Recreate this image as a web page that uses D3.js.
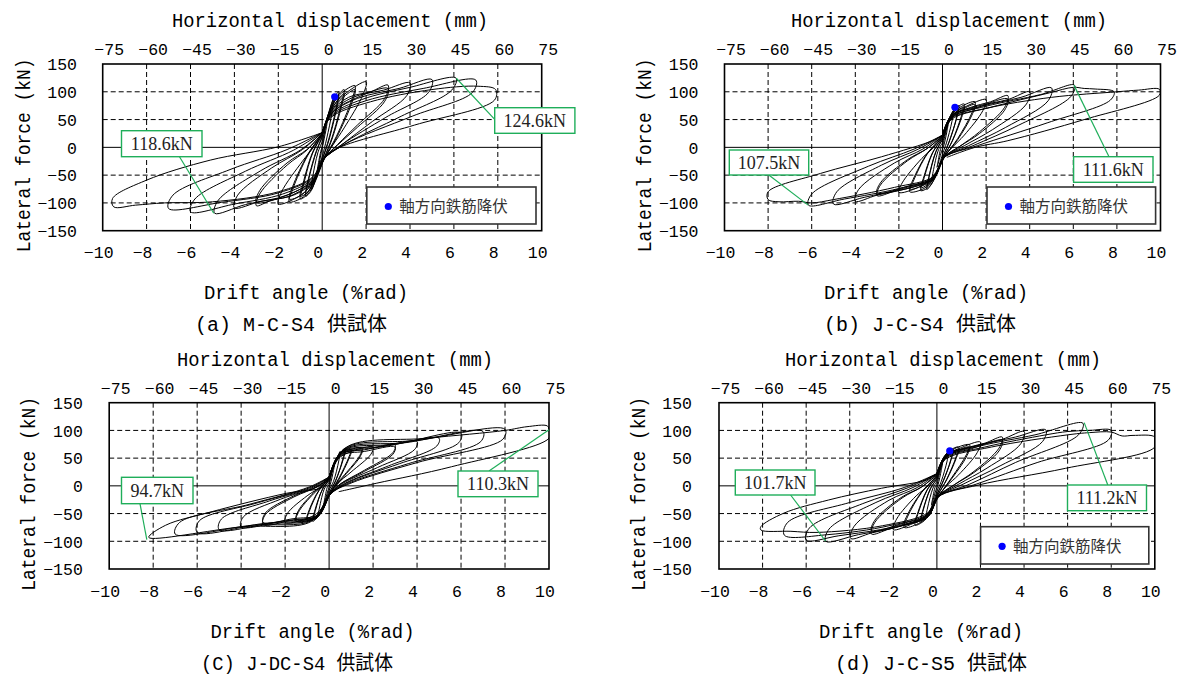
<!DOCTYPE html>
<html>
<head>
<meta charset="utf-8">
<script src="https://cdn.jsdelivr.net/npm/d3@7"></script>
<style>
  body { margin: 0; background: #fff; }
</style>
</head>
<body>
<svg id="chart" width="1189" height="677"></svg>
<script>
// ---- axis ticks ----
const driftTicks = [-10, -8, -6, -4, -2, 0, 2, 4, 6, 8, 10];
const dispTicks = [-75, -60, -45, -30, -15, 0, 15, 30, 45, 60, 75];
const forceTicks = [-150, -100, -50, 0, 50, 100, 150];

const xTitle = "Drift angle (%rad)";
const xTopTitle = "Horizontal displacement (mm)";
const yTitle = "Lateral force (kN)";
const legendText = "軸方向鉄筋降伏";
const captions = ["(a) M-C-S4 供試体", "(b) J-C-S4 供試体", "(C) J-DC-S4 供試体", "(d) J-C-S5 供試体"];

// ---- hysteresis loops, [drift %rad, force kN] ----
const loopsA = [
  [[0,0],[0.12,30],[0.25,55],[0.2,38],[0.05,8],[-0.05,-10],[-0.15,-32],[-0.25,-50],[-0.2,-35],[-0.05,-5],[0,0]],
  [[0,10],[0.2,45],[0.38,72],[0.5,86],[0.44,62],[0.2,15],[0.02,-14],[-0.2,-45],[-0.38,-66],[-0.5,-76],[-0.44,-55],[-0.2,-10],[0,10]],
  [[0,18],[0.25,56],[0.5,86],[0.75,100],[0.66,76],[0.3,15],[0.05,-16],[-0.25,-52],[-0.5,-78],[-0.75,-88],[-0.66,-66],[-0.3,-12],[0,18]],
  [[0,20],[0.3,60],[0.6,85],[0.75,93],[0.66,70],[0.3,12],[0.05,-17],[-0.3,-55],[-0.6,-78],[-0.75,-84],[-0.66,-62],[-0.3,-10],[0,20]],
  [[0,22],[0.3,62],[0.6,88],[1.0,104],[0.88,80],[0.45,18],[0.1,-18],[-0.3,-60],[-0.65,-84],[-1.0,-93],[-0.88,-72],[-0.45,-12],[0,22]],
  [[0,23],[0.35,62],[0.7,85],[1.0,97],[0.88,74],[0.45,15],[0.1,-19],[-0.35,-60],[-0.7,-82],[-1.0,-88],[-0.88,-66],[-0.45,-10],[0,23]],
  [[0,24],[0.35,66],[0.8,95],[1.5,111],[1.35,86],[0.65,20],[0.1,-20],[-0.4,-64],[-0.85,-89],[-1.5,-98],[-1.35,-76],[-0.65,-14],[0,24]],
  [[0,24],[0.4,64],[0.9,88],[1.5,104],[1.35,80],[0.65,17],[0.1,-21],[-0.45,-63],[-0.95,-86],[-1.5,-93],[-1.35,-71],[-0.65,-12],[0,24]],
  [[0,25],[0.4,68],[1.0,95],[2.0,118],[1.85,94],[1.0,35],[0.5,5],[0.05,-22],[-0.5,-68],[-1.1,-89],[-2.0,-102],[-1.85,-80],[-0.9,-25],[-0.4,0],[0,25]],
  [[0,26],[0.4,64],[1.2,90],[2.2,100],[3.0,112],[2.85,88],[1.6,40],[0.7,5],[0.05,-22],[-0.4,-62],[-1.3,-86],[-2.3,-95],[-3.0,-105],[-2.85,-84],[-1.6,-32],[-0.7,-5],[0,26]],
  [[0,25],[0.45,62],[1.5,88],[3.0,106],[2.85,83],[1.6,36],[0.7,4],[0.05,-22],[-0.45,-60],[-1.6,-86],[-3.0,-99],[-2.85,-78],[-1.6,-28],[-0.7,-4],[0,25]],
  [[0,27],[0.4,62],[1.4,90],[2.8,103],[4.0,116],[3.85,93],[2.3,47],[0.9,5],[0.05,-22],[-0.4,-60],[-1.5,-88],[-2.8,-97],[-4.0,-109],[-3.85,-86],[-2.3,-37],[-0.9,-4],[0,27]],
  [[0,27],[0.4,60],[1.6,88],[3.5,106],[5.0,122],[4.85,99],[2.9,54],[0.9,5],[0.05,-22],[-0.4,-58],[-1.6,-86],[-3.5,-103],[-4.9,-118.6],[-4.75,-96],[-2.8,-42],[-1.0,-5],[0,27]],
  [[0,27],[0.4,58],[1.8,86],[4.0,108],[6.1,124.6],[5.9,103],[3.6,56],[1.0,5],[0.05,-22],[-0.4,-56],[-1.8,-84],[-4.0,-102],[-6.0,-116],[-5.8,-93],[-3.5,-43],[-1.3,-5],[0,27]],
  [[0,27],[0.4,56],[2.0,84],[4.6,106],[7.0,121],[6.85,99],[4.1,56],[1.0,5],[0.05,-22],[-0.4,-54],[-2.0,-82],[-4.6,-99],[-7.0,-110],[-6.8,-86],[-4.2,-40],[-1.6,-4],[0,27]],
  [[0,27],[0.4,54],[2.2,82],[5.0,104],[7.1,110],[7.9,104],[7.85,85],[4.2,40],[0.8,0],[0,-20],[-0.4,-52],[-2.0,-80],[-5.0,-98],[-7.2,-100],[-8.5,-104],[-9.5,-107],[-9.55,-92],[-8.0,-59],[-5.1,-23],[-2.0,1],[-0.1,25]]
];

const loopsB = [
  [[0,0],[0.12,22],[0.25,40],[0.2,28],[0.05,2],[-0.05,-8],[-0.15,-22],[-0.25,-36],[-0.2,-25],[-0.05,0],[0,0]],
  [[0,8],[0.22,38],[0.4,56],[0.5,66],[0.43,46],[0.18,8],[0.02,-10],[-0.2,-38],[-0.38,-54],[-0.5,-62],[-0.43,-44],[-0.18,-4],[0,8]],
  [[0,14],[0.25,46],[0.5,66],[0.75,75],[0.66,54],[0.3,10],[0.05,-14],[-0.25,-46],[-0.5,-66],[-0.72,-76],[-0.63,-56],[-0.3,-8],[0,14]],
  [[0,14],[0.3,48],[0.55,64],[0.7,70],[0.62,50],[0.3,9],[0.05,-14],[-0.3,-48],[-0.55,-64],[-0.7,-70],[-0.62,-52],[-0.3,-7],[0,14]],
  [[0,17],[0.3,52],[0.6,70],[1.0,78],[0.88,58],[0.45,12],[0.08,-16],[-0.3,-52],[-0.65,-72],[-1.0,-78],[-0.88,-60],[-0.45,-10],[0,17]],
  [[0,16],[0.35,50],[0.7,66],[1.0,73],[0.88,54],[0.45,11],[0.08,-15],[-0.35,-50],[-0.7,-67],[-1.0,-73],[-0.88,-56],[-0.45,-9],[0,16]],
  [[0,19],[0.35,55],[0.8,72],[1.5,82],[1.35,62],[0.7,16],[0.1,-17],[-0.4,-56],[-0.85,-74],[-1.5,-80],[-1.35,-62],[-0.7,-12],[0,19]],
  [[0,18],[0.4,52],[0.9,68],[1.5,77],[1.35,58],[0.7,14],[0.1,-16],[-0.45,-53],[-0.95,-69],[-1.5,-75],[-1.35,-58],[-0.7,-11],[0,18]],
  [[0,20],[0.4,56],[1.0,72],[2.0,86],[1.85,66],[1.0,22],[0.45,0],[0.05,-18],[-0.4,-56],[-1.1,-72],[-2.0,-81],[-1.85,-64],[-0.95,-20],[-0.4,0],[0,20]],
  [[0,21],[0.4,56],[1.3,72],[2.2,82],[3.0,93],[2.85,72],[1.7,28],[0.8,2],[0.05,-19],[-0.4,-56],[-1.3,-71],[-2.2,-79],[-3.0,-87],[-2.85,-68],[-1.6,-24],[-0.7,-2],[0,21]],
  [[0,20],[0.45,54],[1.5,70],[3.0,87],[2.85,67],[1.7,25],[0.8,2],[0.05,-18],[-0.45,-54],[-1.6,-70],[-3.0,-82],[-2.85,-64],[-1.6,-22],[-0.7,-2],[0,20]],
  [[0,22],[0.4,56],[1.6,74],[3.0,86],[4.0,100],[3.85,78],[2.3,32],[1.0,3],[0.05,-19],[-0.4,-56],[-1.6,-74],[-3.0,-86],[-4.0,-97],[-3.85,-76],[-2.2,-28],[-0.9,-3],[0,22]],
  [[0,22],[0.4,56],[1.8,74],[3.6,90],[5.0,107],[4.85,84],[2.9,36],[1.2,3],[0.05,-19],[-0.4,-55],[-1.8,-74],[-3.6,-90],[-5.0,-102],[-4.85,-80],[-2.8,-32],[-1.1,-3],[0,22]],
  [[0,22],[0.4,54],[2.0,74],[4.5,95],[6.05,112],[5.9,92],[3.5,40],[1.4,3],[0.05,-19],[-0.4,-54],[-2.0,-74],[-4.5,-93],[-6.15,-104],[-6.0,-84],[-3.4,-34],[-1.3,-3],[0,22]],
  [[0,22],[0.4,52],[2.2,72],[4.9,98],[6.0,108],[6.5,106],[7.0,105],[7.87,100],[7.7,85],[4.8,44],[1.6,3],[0.05,-19],[-0.4,-52],[-2.2,-72],[-5.0,-94],[-6.0,-100],[-6.6,-97],[-7.5,-98],[-8.0,-94],[-8.0,-80],[-5.6,-47],[-2.8,-17],[-0.4,13],[0,22]],
  [[0,22],[0.4,50],[2.0,70],[5.0,90],[8.0,100],[9.0,103],[9.95,104.5],[9.95,94],[6.5,50],[3.0,12],[1.5,0],[0.2,-18]]
];

const loopsC = [
  [[0,0],[0.12,22],[0.25,40],[0.2,28],[0.05,2],[-0.05,-8],[-0.15,-22],[-0.25,-35],[-0.2,-24],[-0.05,0],[0,0]],
  [[0,6],[0.2,35],[0.38,52],[0.5,62],[0.44,45],[0.2,8],[0,-8],[-0.2,-32],[-0.4,-48],[-0.5,-55],[-0.44,-40],[-0.2,-4],[0,6]],
  [[0,10],[0.25,42],[0.5,60],[0.75,68],[0.66,50],[0.3,10],[0.02,-12],[-0.25,-40],[-0.55,-58],[-0.75,-64],[-0.66,-46],[-0.3,-6],[0,10]],
  [[0,10],[0.3,44],[0.55,60],[0.7,64],[0.62,48],[0.3,9],[0.02,-12],[-0.3,-42],[-0.55,-56],[-0.7,-60],[-0.62,-44],[-0.3,-6],[0,10]],
  [[0,12],[0.3,46],[0.6,62],[1.0,66],[0.9,52],[0.45,14],[0.05,-13],[-0.3,-44],[-0.65,-60],[-1.0,-62],[-0.9,-46],[-0.45,-8],[0,12]],
  [[0,12],[0.35,46],[0.7,60],[1.0,62],[0.9,49],[0.45,12],[0.05,-13],[-0.35,-44],[-0.7,-57],[-1.0,-59],[-0.9,-43],[-0.45,-7],[0,12]],
  [[0,13],[0.35,50],[0.8,63],[1.5,68],[1.4,55],[0.7,20],[0.3,2],[0.05,-14],[-0.4,-48],[-0.85,-61],[-1.5,-64],[-1.4,-48],[-0.7,-14],[-0.3,0],[0,13]],
  [[0,13],[0.4,48],[0.9,60],[1.5,64],[1.4,52],[0.7,18],[0.05,-14],[-0.45,-46],[-0.95,-58],[-1.5,-60],[-1.4,-45],[-0.7,-12],[0,13]],
  [[0,14],[0.4,54],[1.1,64],[2.0,70],[1.9,57],[1.0,25],[0.35,3],[0.05,-14],[-0.45,-52],[-1.1,-61],[-2.0,-66],[-1.9,-50],[-1.0,-18],[-0.35,-1],[0,14]],
  [[0,15],[0.5,58],[1.6,65],[3.0,74],[2.9,60],[1.6,28],[0.5,3],[0.05,-15],[-0.5,-55],[-1.6,-61],[-3.0,-70],[-2.9,-52],[-1.6,-20],[-0.5,-1],[0,15]],
  [[0,14],[0.5,54],[1.6,62],[3.0,70],[2.9,57],[1.6,26],[0.5,3],[0.05,-15],[-0.5,-52],[-1.6,-59],[-3.0,-66],[-2.9,-49],[-1.6,-18],[-0.5,-1],[0,14]],
  [[0,15],[0.55,60],[2.0,68],[4.0,80],[3.9,66],[2.2,33],[0.6,4],[0.05,-15],[-0.6,-57],[-2.0,-63],[-4.0,-74],[-3.9,-56],[-2.2,-24],[-0.6,-2],[0,15]],
  [[0,16],[0.6,62],[2.5,71],[5.0,86],[4.9,72],[2.7,36],[0.7,4],[0.05,-15],[-0.65,-58],[-2.5,-66],[-5.0,-79],[-4.9,-60],[-2.7,-27],[-0.7,-2],[0,16]],
  [[0,16],[0.65,64],[3.0,75],[6.0,95],[5.9,78],[3.2,40],[0.8,5],[0.05,-15],[-0.7,-60],[-3.0,-68],[-6.0,-84],[-5.9,-63],[-3.2,-30],[-0.8,-2],[0,16]],
  [[0,16],[0.7,66],[3.5,78],[7.0,98],[6.9,80],[3.6,40],[0.9,5],[0.05,-15],[-0.75,-62],[-3.5,-71],[-7.0,-87],[-6.8,-66],[-3.6,-33],[-0.9,-2],[0,16]],
  [[0,16],[0.75,68],[4.0,82],[8.0,102],[7.9,84],[4.0,42],[1.0,5],[0.05,-15],[-0.8,-64],[-4.0,-74],[-8.2,-93],[-7.43,-71],[-5.37,-47],[-1.95,-13.5],[-0.25,-1.5],[0,16]],
  [[0,16],[0.8,70],[4.5,86],[8.0,100],[9.0,106.7],[9.93,108],[10,100],[10,86],[5.57,34.5],[2.14,4.6],[0.44,-10.5]]
];

const loopsD = [
  [[0,0],[0.12,22],[0.25,40],[0.2,28],[0.05,2],[-0.05,-8],[-0.15,-22],[-0.25,-35],[-0.2,-24],[-0.05,0],[0,0]],
  [[0,8],[0.2,36],[0.4,54],[0.55,63],[0.47,45],[0.2,8],[0,-10],[-0.2,-34],[-0.4,-50],[-0.5,-56],[-0.43,-40],[-0.18,-4],[0,8]],
  [[0,13],[0.25,44],[0.5,60],[0.75,66],[0.66,48],[0.3,10],[0.03,-14],[-0.25,-44],[-0.55,-60],[-0.75,-64],[-0.66,-46],[-0.3,-6],[0,13]],
  [[0,12],[0.3,46],[0.55,58],[0.7,62],[0.62,45],[0.3,9],[0.03,-13],[-0.3,-44],[-0.55,-57],[-0.7,-60],[-0.62,-43],[-0.3,-5],[0,12]],
  [[0,16],[0.3,50],[0.6,64],[1.0,70],[0.88,52],[0.45,12],[0.06,-16],[-0.3,-50],[-0.65,-65],[-1.0,-71],[-0.88,-52],[-0.45,-8],[0,16]],
  [[0,15],[0.35,48],[0.7,60],[1.0,66],[0.88,49],[0.45,11],[0.06,-15],[-0.35,-48],[-0.7,-61],[-1.0,-66],[-0.88,-49],[-0.45,-7],[0,15]],
  [[0,18],[0.35,54],[0.8,67],[1.5,74],[1.35,56],[0.7,16],[0.1,-18],[-0.4,-54],[-0.85,-68],[-1.5,-75],[-1.35,-56],[-0.7,-12],[0,18]],
  [[0,17],[0.4,51],[0.9,63],[1.5,70],[1.35,52],[0.7,14],[0.1,-17],[-0.45,-51],[-0.95,-64],[-1.5,-70],[-1.35,-52],[-0.7,-11],[0,17]],
  [[0,20],[0.4,55],[1.0,67],[2.0,79],[1.85,60],[1.0,20],[0.45,0],[0.05,-19],[-0.4,-55],[-1.1,-68],[-2.0,-79],[-1.85,-60],[-0.95,-18],[-0.4,0],[0,20]],
  [[0,21],[0.4,55],[1.3,68],[2.2,77],[3.0,88],[2.85,68],[1.7,26],[0.8,2],[0.05,-20],[-0.4,-55],[-1.3,-68],[-2.2,-78],[-3.0,-87],[-2.85,-66],[-1.6,-22],[-0.7,-2],[0,21]],
  [[0,20],[0.45,53],[1.5,66],[3.0,82],[2.85,63],[1.7,24],[0.8,2],[0.05,-19],[-0.45,-53],[-1.6,-68],[-3.0,-81],[-2.85,-62],[-1.6,-20],[-0.7,-2],[0,20]],
  [[0,22],[0.4,54],[1.6,70],[3.0,84],[4.0,98],[3.85,76],[2.3,32],[1.0,3],[0.05,-20],[-0.4,-55],[-1.6,-72],[-3.0,-85],[-3.95,-95],[-3.8,-73],[-2.2,-26],[-0.9,-3],[0,22]],
  [[0,22],[0.4,54],[1.8,72],[3.6,88],[5.0,101],[4.85,80],[2.9,36],[1.2,3],[0.05,-20],[-0.4,-54],[-1.8,-74],[-3.6,-88],[-5.1,-100],[-4.95,-78],[-2.8,-30],[-1.1,-3],[0,22]],
  [[0,22],[0.4,52],[2.0,72],[4.5,92],[6.7,113],[6.5,92],[3.6,42],[1.5,3],[0.05,-20],[-0.4,-52],[-2.0,-74],[-4.5,-90],[-6.0,-98],[-5.85,-76],[-3.4,-32],[-1.3,-3],[0,22]],
  [[0,22],[0.4,50],[2.2,70],[5.0,92],[6.0,98],[7.0,100],[8.0,100],[7.85,82],[4.6,42],[1.8,3],[0.05,-20],[-0.4,-50],[-2.2,-72],[-5.0,-88],[-7.0,-89],[-6.85,-66],[-4.0,-30],[-1.5,-3],[0,22]],
  [[0,22],[0.4,48],[2.5,70],[6.0,92],[7.0,96],[8.0,97],[8.5,90],[9.0,91],[10,88],[10,70],[5.9,31.6],[1.9,1.5],[0.05,-20],[-0.4,-48],[-2.5,-72],[-5.5,-84],[-6.7,-82],[-8.08,-79.6],[-8.08,-73.7],[-7.04,-49.5],[-4.97,-25.5],[-2.55,-4.4],[-0.49,10.6],[0,22]]
];

// yield of longitudinal bars (blue dots), null when not marked
const yieldA = [0.57, 91];
const yieldB = [0.57, 72];
const yieldC = null;
const yieldD = [0.59, 63];

// max force call-outs
const peakTextA = ["118.6kN", "124.6kN"];
const peakPtA = [[-4.94, -118.6], [6.11, 124.3]];
const peakTextB = ["107.5kN", "111.6kN"];
const peakPtB = [[-6.16, -104], [6.03, 112]];
const peakTextC = ["94.7kN", "110.3kN"];
const peakPtC = [[-8.29, -97], [10, 101]];
const peakTextD = ["101.7kN", "111.2kN"];
const peakPtD = [[-5.11, -99.5], [6.76, 114]];

// ---- layout of the four panels ----
const panels = [
  { loops: loopsA, yld: yieldA, peakText: peakTextA, peakPt: peakPtA, cap: captions[0],
    L: 102.7, R: 541.7, T: 64, B: 230.7, titleX: 330, driftX: 306, capX: 291, ylabX: 22.5, tickR: 77,
    boxes: [[121.5, 130.7, 80.5, 26, 179.5, 156.7], [494.7, 107.7, 80.2, 25.6, 494.7, 119.3]],
    legend: [366.8, 187, 169.2, 37] },
  { loops: loopsB, yld: yieldB, peakText: peakTextB, peakPt: peakPtB, cap: captions[1],
    L: 724.5, R: 1160.5, T: 64, B: 230.7, titleX: 949, driftX: 926, capX: 920, ylabX: 644, tickR: 698.5,
    boxes: [[729.3, 150, 79.4, 25, 768.8, 175], [1073.6, 156.7, 79.4, 25.6, 1109, 156.7]],
    legend: [987, 187, 168.6, 37] },
  { loops: loopsC, yld: yieldC, peakText: peakTextC, peakPt: peakPtC, cap: captions[2],
    L: 109.2, R: 549, T: 402.7, B: 569, titleX: 335, driftX: 312.5, capX: 297, ylabX: 28, tickR: 82.8,
    boxes: [[121.5, 477.3, 71.5, 26.4, 140, 503.7], [458, 471, 80, 25.7, 489, 471]],
    legend: null },
  { loops: loopsD, yld: yieldD, peakText: peakTextD, peakPt: peakPtD, cap: captions[3],
    L: 719, R: 1154.8, T: 402.7, B: 569, titleX: 943, driftX: 921, capX: 931, ylabX: 637.5, tickR: 692,
    boxes: [[735.3, 470, 79.7, 25, 790.6, 495], [1067.5, 485, 79, 25.7, 1107.8, 485]],
    legend: [980.6, 526.7, 168.2, 37.3] }
];

const svg = d3.select("#chart");
const mono = "'Liberation Mono', 'Noto Sans CJK JP', monospace";
const green = "#1fae5a";
const fmt = d => d < 0 ? "\u2212" + Math.abs(d) : String(d);

panels.forEach((p, i) => {
  const x = d3.scaleLinear().domain([-10, 10]).range([p.L, p.R]);
  const xTop = d3.scaleLinear().domain([-75, 75]).range([p.L, p.R]);
  const y = d3.scaleLinear().domain([-150, 150]).range([p.B, p.T]);
  const g = svg.append("g");

  // dashed grid
  g.selectAll(".vg")
    .data(driftTicks.filter(d => d > -10 && d < 10 && d !== 0))
    .enter().append("line")
    .attr("x1", d => x(d)).attr("x2", d => x(d))
    .attr("y1", p.T).attr("y2", p.B)
    .attr("stroke", "#000").attr("stroke-width", 1).attr("stroke-dasharray", "5,3");
  g.selectAll(".hg")
    .data(forceTicks.filter(d => d > -150 && d < 150 && d !== 0))
    .enter().append("line")
    .attr("x1", p.L).attr("x2", p.R)
    .attr("y1", d => y(d)).attr("y2", d => y(d))
    .attr("stroke", "#000").attr("stroke-width", 1).attr("stroke-dasharray", "5,3");

  // zero lines
  g.append("line").attr("x1", x(0)).attr("x2", x(0)).attr("y1", p.T).attr("y2", p.B)
    .attr("stroke", "#000").attr("stroke-width", 1);
  g.append("line").attr("x1", p.L).attr("x2", p.R).attr("y1", y(0)).attr("y2", y(0))
    .attr("stroke", "#000").attr("stroke-width", 1);

  // loops
  const clipId = "clip" + i;
  svg.append("clipPath").attr("id", clipId).append("rect")
    .attr("x", p.L).attr("y", p.T).attr("width", p.R - p.L).attr("height", p.B - p.T);
  const line = d3.line()
    .x(d => x(d[0])).y(d => y(d[1]))
    .curve(d3.curveCatmullRom.alpha(0.5));
  g.append("g").attr("clip-path", `url(#${clipId})`)
    .selectAll("path").data(p.loops).enter().append("path")
    .attr("d", line)
    .attr("fill", "none").attr("stroke", "#000").attr("stroke-width", 1);

  // frame
  g.append("rect").attr("x", p.L).attr("y", p.T)
    .attr("width", p.R - p.L).attr("height", p.B - p.T)
    .attr("fill", "none").attr("stroke", "#000").attr("stroke-width", 1.6);

  // axes
  const axB = g.append("g").attr("transform", `translate(0,${p.B})`)
    .call(d3.axisBottom(x).tickValues(driftTicks).tickSize(0).tickFormat(fmt));
  const axT = g.append("g").attr("transform", `translate(0,${p.T})`)
    .call(d3.axisTop(xTop).tickValues(dispTicks).tickSize(0).tickFormat(fmt));
  const axL = g.append("g").attr("transform", `translate(${p.L},0)`)
    .call(d3.axisLeft(y).tickValues(forceTicks).tickSize(0).tickFormat(fmt));
  [axB, axT, axL].forEach(a => {
    a.select(".domain").remove();
    a.attr("font-family", mono).attr("font-size", 16.5);
    a.selectAll("text").attr("fill", "#000");
  });
  axB.selectAll("text").attr("y", 27.5).attr("dy", 0).attr("dx", -4.5);
  axT.selectAll("text").attr("y", -9).attr("dy", 0).attr("dx", 6);
  axL.selectAll("text").attr("x", -(p.L - p.tickR)).attr("dy", "0.35em");

  // titles
  g.append("text").attr("x", p.titleX).attr("y", p.T - 37)
    .attr("text-anchor", "middle").attr("font-family", mono).attr("font-size", 20)
    .attr("textLength", 316).attr("lengthAdjust", "spacingAndGlyphs")
    .text(xTopTitle);
  g.append("text").attr("x", p.driftX).attr("y", p.B + 68.5)
    .attr("text-anchor", "middle").attr("font-family", mono).attr("font-size", 20)
    .attr("textLength", 204).attr("lengthAdjust", "spacingAndGlyphs")
    .text(xTitle);
  g.append("text")
    .attr("transform", `translate(${p.ylabX + 7},${(p.T + p.B) / 2 + 8}) rotate(-90)`)
    .attr("text-anchor", "middle").attr("font-family", mono).attr("font-size", 20)
    .attr("textLength", 194).attr("lengthAdjust", "spacingAndGlyphs")
    .text(yTitle);
  g.append("text").attr("x", p.capX).attr("y", p.B + 100.5)
    .attr("text-anchor", "middle").attr("font-family", mono).attr("font-size", 20)
    .attr("textLength", 192).attr("lengthAdjust", "spacingAndGlyphs")
    .text(p.cap);

  // yield point
  if (p.yld) {
    g.append("circle").attr("cx", x(p.yld[0])).attr("cy", y(p.yld[1])).attr("r", 3.6).attr("fill", "#0000ff");
  }

  // legend
  if (p.legend) {
    const [lx, ly, lw, lh] = p.legend;
    g.append("rect").attr("x", lx).attr("y", ly).attr("width", lw).attr("height", lh)
      .attr("fill", "#fff").attr("stroke", "#333").attr("stroke-width", 1.6);
    g.append("circle").attr("cx", lx + 21.5).attr("cy", ly + lh / 2 + 1).attr("r", 3.6).attr("fill", "#0000ff");
    g.append("text").attr("x", lx + 32.5).attr("y", ly + lh / 2 + 6.5)
      .attr("font-family", "'Noto Sans CJK JP', sans-serif").attr("font-size", 15.5)
      .attr("fill", "#333").text(legendText);
  }

  // call-outs
  p.boxes.forEach((b, k) => {
    const [bx, by, bw, bh, ax, ay] = b;
    const pt = p.peakPt[k];
    g.append("line").attr("x1", ax).attr("y1", ay).attr("x2", x(pt[0])).attr("y2", y(pt[1]))
      .attr("stroke", green).attr("stroke-width", 1.2);
    g.append("rect").attr("x", bx).attr("y", by).attr("width", bw).attr("height", bh)
      .attr("fill", "#fff").attr("stroke", green).attr("stroke-width", 1.4);
    g.append("text").attr("x", bx + bw / 2).attr("y", by + bh / 2 + 6)
      .attr("text-anchor", "middle").attr("font-family", "'Liberation Serif', serif")
      .attr("font-size", 18).attr("fill", "#222").text(p.peakText[k]);
  });
});
</script>
</body>
</html>
